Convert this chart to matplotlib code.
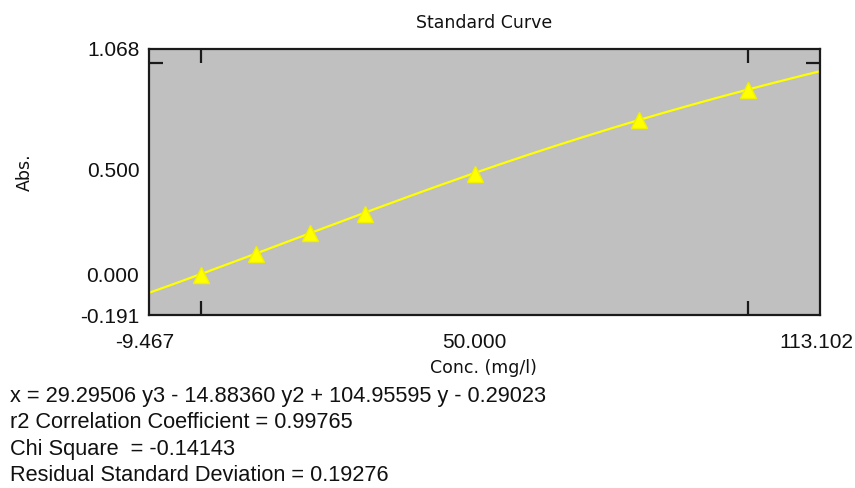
import numpy as np
import matplotlib.pyplot as plt
import matplotlib.transforms as mtransforms

#  Data 
conc = [0, 10, 20, 30, 50, 80, 100]
absorbance = [0.0, 0.097, 0.195, 0.285, 0.478, 0.73, 0.875]

# fit shown under the chart: x = a*y^3 + b*y^2 + c*y + d
fit_coeffs = [29.29506, -14.88360, 104.95595, -0.29023]

x_limits = [-9.467, 113.102]
y_limits = [-0.191, 1.068]
x_tick_labels = ["-9.467", "50.000", "113.102"]
y_tick_labels = ["-0.191", "0.000", "0.500", "1.068"]
x_tick_marks = [0, 50, 100]
y_tick_marks = [0.0, 0.5, 1.0]

stats_lines = [
    "x = 29.29506 y3 - 14.88360 y2 + 104.95595 y - 0.29023",
    "r2 Correlation Coefficient = 0.99765",
    "Chi Square  = -0.14143",
    "Residual Standard Deviation = 0.19276",
]

#  Plot 
fig = plt.figure(figsize=(8.55, 4.88), dpi=100)
ax = fig.add_axes([0.1743, 0.3545, 0.9590 - 0.1743, 0.8996 - 0.3545])
ax.set_facecolor("#c0c0c0")

y_curve = np.linspace(y_limits[0] - 0.05, y_limits[1] + 0.05, 300)
x_curve = np.polyval(fit_coeffs, y_curve)
ax.plot(x_curve, y_curve, color="#ffff00", lw=1.6, zorder=2)
ax.plot(conc, absorbance, linestyle="none", marker="^", markersize=11,
        color="#ffff00", markeredgecolor="#f0f000", zorder=3)

ax.set_xlim(x_limits)
ax.set_ylim(y_limits)

for s in ax.spines.values():
    s.set_linewidth(1.6)
    s.set_color("#1a1a1a")

# labelled ticks at the limits (no marks), short marks inside at round values
ax.set_xticks([x_limits[0], 50, x_limits[1]])
ax.set_xticklabels(x_tick_labels)
ax.set_yticks([y_limits[0], 0.0, 0.5, y_limits[1]])
ax.set_yticklabels(y_tick_labels)
ax.tick_params(axis="both", which="major", length=0, labelsize=15,
               labelcolor="#111111")
ax.tick_params(axis="x", which="major", pad=13)
ax.tick_params(axis="y", which="major", pad=7)

ax.set_xticks(x_tick_marks, minor=True)
ax.set_yticks(y_tick_marks, minor=True)
ax.tick_params(which="minor", direction="in", length=10, width=1.6,
               top=True, right=True, color="#1a1a1a")

for lab in ax.get_xticklabels() + ax.get_yticklabels():
    lab.set_fontfamily("Liberation Sans")

# nudge the end labels like the original
xl = ax.get_xticklabels()
for lab, dx in zip(xl, [-4, 0, -4]):
    lab.set_transform(lab.get_transform() +
                      mtransforms.ScaledTranslation(dx / 100, 0, fig.dpi_scale_trans))

fig.text(0.566, 0.953, "Standard Curve", ha="center", va="center",
         fontsize=12.5, family="DejaVu Sans", color="#111111")
fig.text(0.566, 0.246, "Conc. (mg/l)", ha="center", va="center",
         fontsize=12.5, family="DejaVu Sans", color="#111111")
fig.text(0.029, 0.6475, "Abs.", ha="center", va="center", rotation=90,
         fontsize=12.5, family="DejaVu Sans", color="#111111")

for i, line in enumerate(stats_lines):
    fig.text(0.0117, 0.1865 - i * 0.0533, line, ha="left", va="center",
             fontsize=15.7, family="Liberation Sans", color="#111111")

plt.savefig("out.png", dpi=100)
